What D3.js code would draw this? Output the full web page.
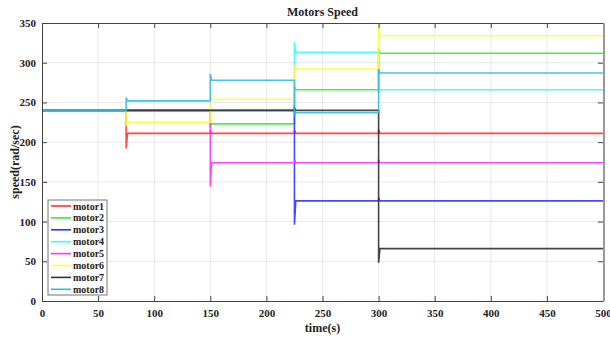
<!DOCTYPE html>
<html>
<head>
    <script src="https://cdn.jsdelivr.net/npm/d3@7"></script>
    <style>
        body { margin: 0; background: #fff; }
        svg text { font-family: "Liberation Serif", "Times New Roman", serif; font-weight: bold; fill: #222; }
    </style>
</head>
<body>
    <svg id="chart" width="610" height="337"></svg>
    <script>
        // step times (s) and the level of each motor in each interval
        const stepTimes = [0, 75, 150, 225, 300, 500];
        const motorNames = ["motor1", "motor2", "motor3", "motor4", "motor5", "motor6", "motor7", "motor8"];
        const motorColors = ["#ff3333", "#33ee33", "#3333ff", "#33ffff", "#ff33ff", "#ffff33", "#333333", "#33bbe0"];

        const motor1 = [240, 211, 211, 211, 211];
        const motor2 = [240, 240, 223, 266, 312];
        const motor3 = [240, 240, 240, 126, 126];
        const motor4 = [240, 240, 240, 313, 266];
        const motor5 = [240, 240, 174, 174, 174];
        const motor6 = [240, 225, 254, 292, 334];
        const motor7 = [240, 240, 240, 240, 66];
        const motor8 = [240, 252, 278, 237, 287];

        // transient peak at each step (t = 75, 150, 225, 300)
        const peaks1 = [192, 215, 215, 216];
        const peaks2 = [240, 219, 270, 318];
        const peaks3 = [240, 240, 96, 130];
        const peaks4 = [240, 240, 326, 262];
        const peaks5 = [240, 144, 178, 178];
        const peaks6 = [222, 256, 295, 348];
        const peaks7 = [240, 240, 243, 48];
        const peaks8 = [256, 286, 233, 292];

        const levels = [motor1, motor2, motor3, motor4, motor5, motor6, motor7, motor8];
        const peaks = [peaks1, peaks2, peaks3, peaks4, peaks5, peaks6, peaks7, peaks8];

        const xTicks = d3.range(0, 501, 50);
        const yTicks = d3.range(0, 351, 50);

        const margin = { left: 42, right: 7, top: 23, bottom: 36 };
        const W = 610, H = 337;
        const svg = d3.select("#chart");

        const x = d3.scaleLinear().domain([0, 500]).range([margin.left, W - margin.right]);
        const y = d3.scaleLinear().domain([0, 350]).range([H - margin.bottom, margin.top]);

        // grid
        svg.append("g").selectAll("line").data(xTicks.slice(1, -1)).enter().append("line")
            .attr("x1", d => x(d)).attr("x2", d => x(d))
            .attr("y1", y(0)).attr("y2", y(350))
            .attr("stroke", "#e8e8e8").attr("stroke-width", 1);
        svg.append("g").selectAll("line").data(yTicks.slice(1, -1)).enter().append("line")
            .attr("x1", x(0)).attr("x2", x(500))
            .attr("y1", d => y(d)).attr("y2", d => y(d))
            .attr("stroke", "#e8e8e8").attr("stroke-width", 1);

        // series: step path with a spike at each change
        function seriesPoints(lv, pk) {
            const pts = [[stepTimes[0], lv[0]]];
            for (let i = 0; i < pk.length; i++) {
                const t = stepTimes[i + 1];
                pts.push([t, lv[i]]);
                pts.push([t, pk[i]]);
                pts.push([t + 1.2, lv[i + 1]]);
            }
            pts.push([stepTimes[stepTimes.length - 1], lv[lv.length - 1]]);
            return pts;
        }

        const line = d3.line().x(d => x(d[0])).y(d => y(d[1]));

        svg.append("g").selectAll("path").data(levels).enter().append("path")
            .attr("d", (d, i) => line(seriesPoints(d, peaks[i])))
            .attr("fill", "none")
            .attr("stroke", (d, i) => motorColors[i])
            .attr("stroke-width", 1.6)
            .attr("stroke-opacity", 0.9);

        // axes box
        const axisColor = "#444";
        const xAxis = d3.axisBottom(x).tickValues(xTicks).tickSizeInner(-5).tickSizeOuter(0).tickPadding(8);
        const yAxis = d3.axisLeft(y).tickValues(yTicks).tickSizeInner(-5).tickSizeOuter(0).tickPadding(6);
        const xTop = d3.axisTop(x).tickValues(xTicks).tickSizeInner(-5).tickSizeOuter(0).tickFormat("");
        const yRight = d3.axisRight(y).tickValues(yTicks).tickSizeInner(-5).tickSizeOuter(0).tickFormat("");

        svg.append("g").attr("transform", `translate(0,${y(0)})`).call(xAxis);
        svg.append("g").attr("transform", `translate(${x(0)},0)`).call(yAxis);
        svg.append("g").attr("transform", `translate(0,${y(350)})`).call(xTop);
        svg.append("g").attr("transform", `translate(${x(500)},0)`).call(yRight);

        svg.selectAll("g").attr("font-family", null).attr("font-size", null);
        svg.selectAll(".domain").attr("stroke", axisColor);
        svg.selectAll(".tick line").attr("stroke", axisColor);
        svg.selectAll(".tick text").attr("fill", "#222")
            .style("font-size", "11px").style("font-family", "Liberation Serif, serif").style("font-weight", "bold");
        // right edge is drawn a bit heavier in the reference
        svg.append("line").attr("x1", x(500) + 1).attr("x2", x(500) + 1)
            .attr("y1", y(350)).attr("y2", y(0)).attr("stroke", "#999").attr("stroke-width", 2);

        // titles
        svg.append("text").attr("x", (x(0) + x(500)) / 2).attr("y", 16)
            .attr("text-anchor", "middle").style("font-size", "12px").text("Motors Speed");
        svg.append("text").attr("x", (x(0) + x(500)) / 2).attr("y", 332)
            .attr("text-anchor", "middle").style("font-size", "12px").text("time(s)");
        svg.append("text")
            .attr("transform", `translate(19,${(y(0) + y(350)) / 2}) rotate(-90)`)
            .attr("text-anchor", "middle").style("font-size", "12px").text("speed(rad/sec)");

        // legend
        const lg = svg.append("g").attr("transform", "translate(48,200)");
        lg.append("rect").attr("width", 59).attr("height", 95)
            .attr("fill", "#fff").attr("stroke", "#777").attr("stroke-width", 1);
        const items = lg.selectAll("g.item").data(motorNames).enter().append("g")
            .attr("transform", (d, i) => `translate(0,${6 + i * 11.9})`);
        items.append("line").attr("x1", 3).attr("x2", 23).attr("y1", 0).attr("y2", 0)
            .attr("stroke", (d, i) => motorColors[i]).attr("stroke-width", 1.6);
        items.append("text").attr("x", 25).attr("y", 3.5).style("font-size", "10px").text(d => d);
    </script>
</body>
</html>
